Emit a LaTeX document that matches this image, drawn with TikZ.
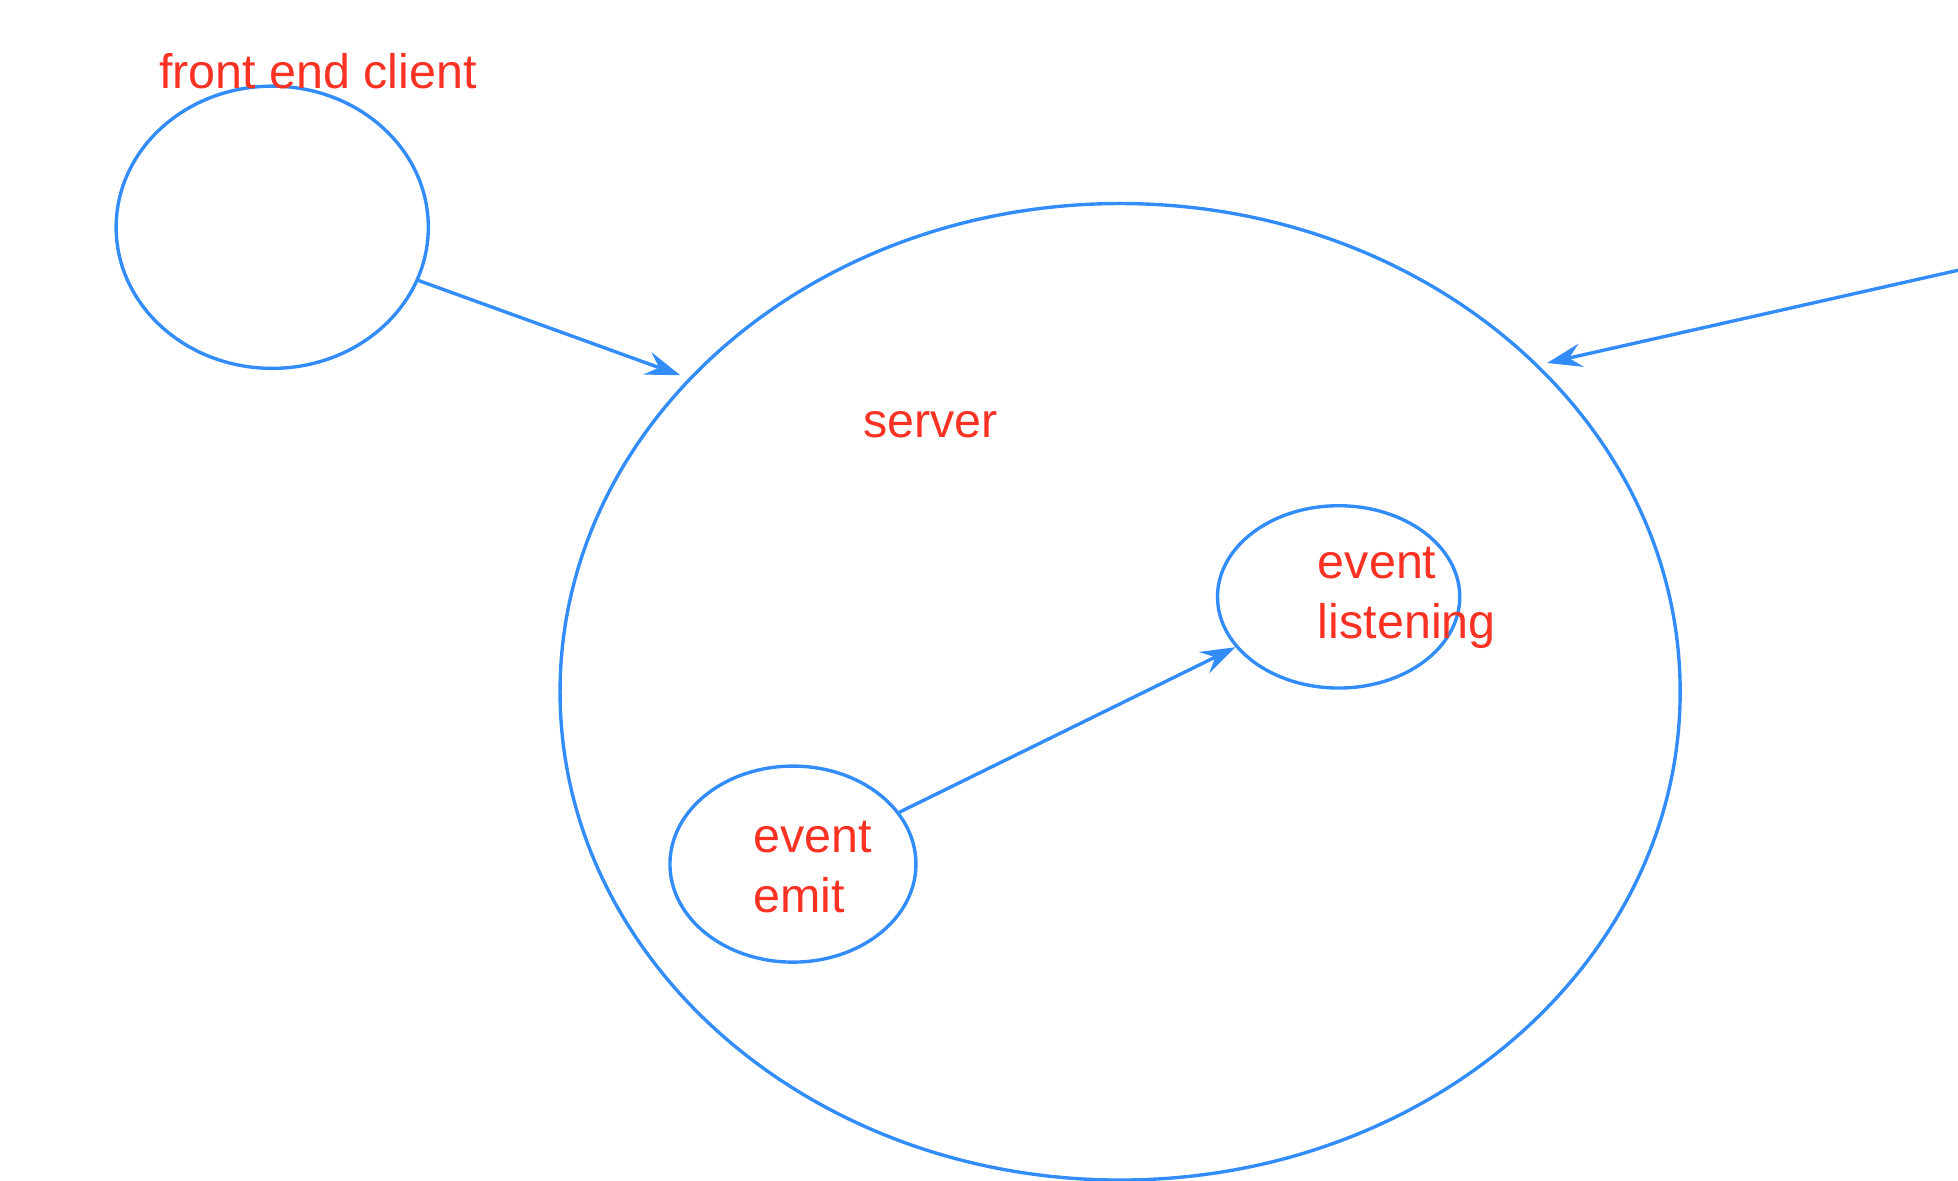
\documentclass[tikz,border=0pt]{standalone}
\usepackage{fontspec}
\setmainfont{Liberation Sans}
\usetikzlibrary{arrows.meta,shapes.geometric}
\definecolor{lineblue}{RGB}{50,140,250}
\definecolor{textred}{RGB}{250,50,35}
\tikzset{
  bubble/.style={ellipse,draw=lineblue,line width=1.35pt,inner sep=0pt},
  lbl/.style={text=textred,inner sep=0pt,font=\fontsize{19.4pt}{24pt}\selectfont,align=left,anchor=base west},
  flow/.style={draw=lineblue,line width=1.35pt,-{Stealth[length=14pt,width=9.5pt,inset=5pt]}}
}
\begin{document}
\begin{tikzpicture}[x=0.5pt,y=0.5pt]
\useasboundingbox (0,0) rectangle (1568,-945);
\node[bubble,minimum width=125pt,minimum height=113pt] (fe) at (218,-182) {};
\node[bubble,minimum width=448.5pt,minimum height=391pt] (server) at (897,-554) {};
\node[bubble,minimum width=98.5pt,minimum height=78.5pt] (emit) at (635,-692) {};
\node[bubble,minimum width=97pt,minimum height=73pt] (listen) at (1072,-478) {};
\node[lbl] (felbl) at (127,-71) {front end client};
\node[lbl] (srvlbl) at (691,-350) {server};
\node[lbl] (emitlbl) at (603,-731) {event\\emit};
\node[lbl] (listenlbl) at (1055,-511) {event\\listening};
\coordinate (ext) at (1570,-216);
\draw[flow,shorten >=3.5pt] (fe.-20.4) -- (server.144.9);
\draw[flow,shorten >=3.5pt] (ext) -- (server.38.3);
\draw[flow] (emit.26) -- (listen.206.6);
\end{tikzpicture}
\end{document}
